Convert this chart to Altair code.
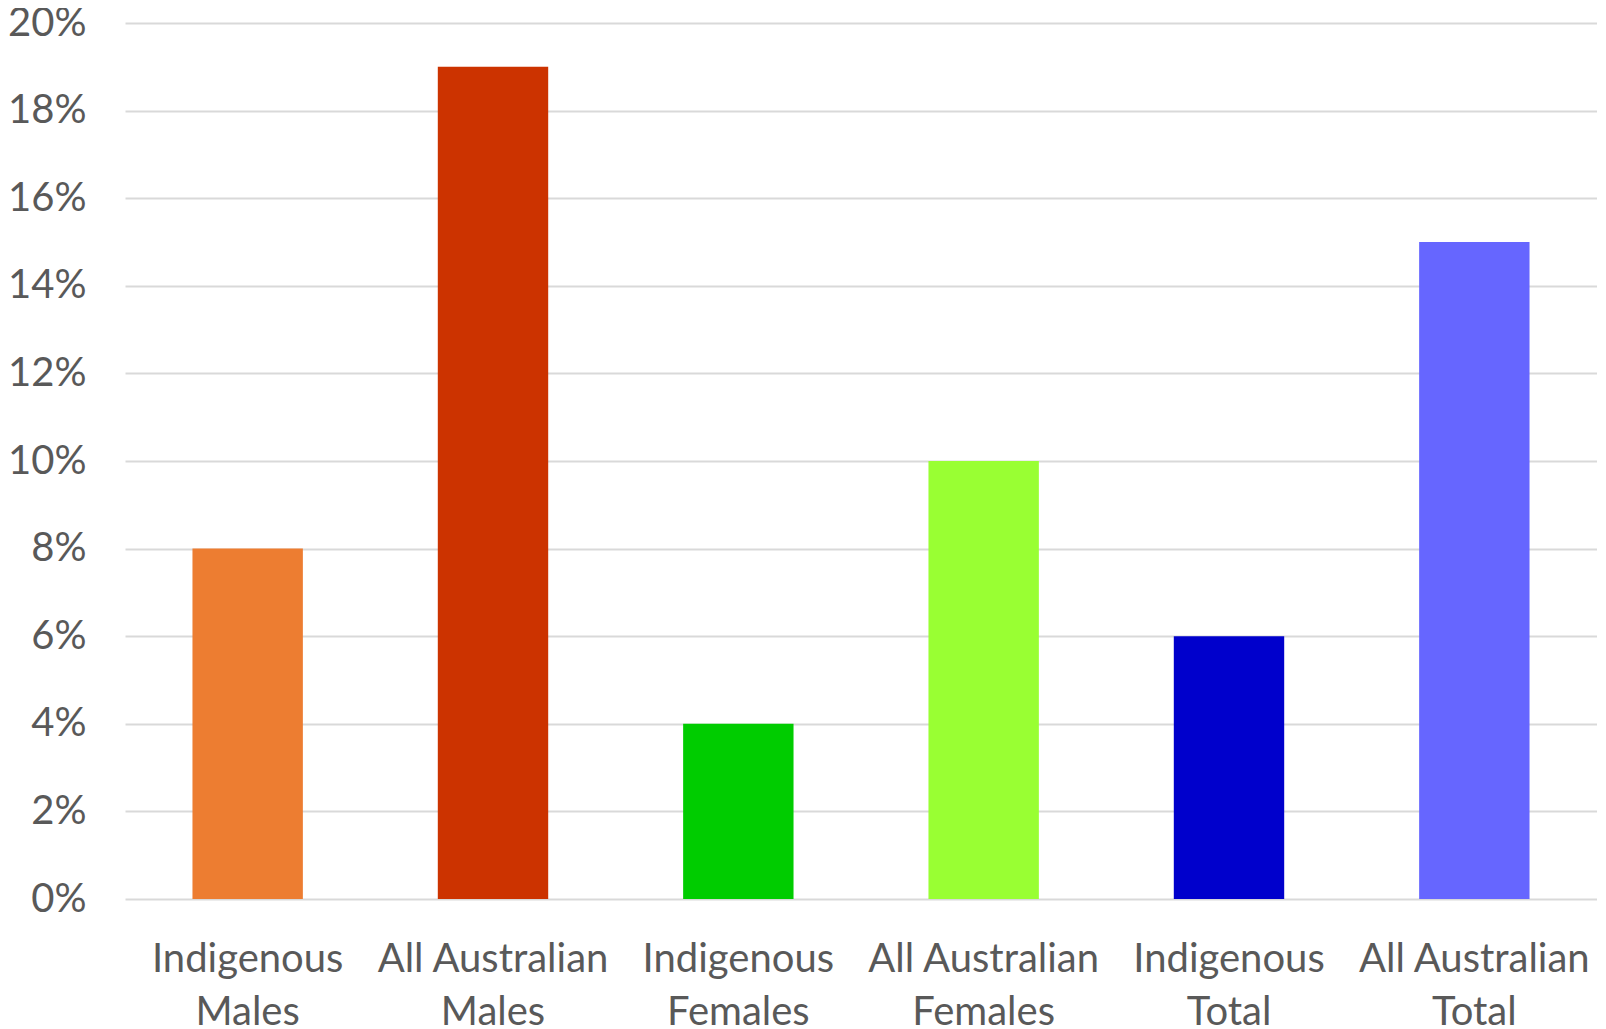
import altair as alt
import pandas as pd

categories = ["Indigenous Males", "All Australian Males", "Indigenous Females",
              "All Australian Females", "Indigenous Total", "All Australian Total"]
values = [0.08, 0.19, 0.04, 0.10, 0.06, 0.15]
colors = ["#ED7D31", "#CC3300", "#00CC00", "#99FF33", "#0000CC", "#6666FF"]
y_ticks = [0, 0.02, 0.04, 0.06, 0.08, 0.10, 0.12, 0.14, 0.16, 0.18, 0.20]

df = pd.DataFrame({"category": categories, "value": values, "color": colors})

label_expr = ("[substring(datum.label, 0, lastindexof(datum.label, ' ')), "
              "substring(datum.label, lastindexof(datum.label, ' ') + 1)]")

chart = alt.Chart(df).mark_bar().encode(
    x=alt.X("category:N", sort=categories, title=None,
            scale=alt.Scale(paddingInner=0.55, paddingOuter=0.275),
            axis=alt.Axis(labelExpr=label_expr, labelAngle=0, ticks=False, domain=False,
                          grid=False, labelPadding=40, labelLineHeight=53,
                          labelLimit=0)),
    y=alt.Y("value:Q", title=None,
            scale=alt.Scale(domain=[0, 0.20], nice=False),
            axis=alt.Axis(values=y_ticks, format=".0%", ticks=False, domain=False,
                          labelPadding=39, gridColor="#D9D9D9", gridWidth=2)),
    color=alt.Color("color:N", scale=None),
).properties(
    width=1472, height=876,
    padding={"left": 117, "top": 15, "right": 0, "bottom": 130},
    autosize=alt.AutoSizeParams(type="none"),
).configure_axis(
    labelFont="Lato", labelFontSize=40, labelColor="#595959",
).configure_view(stroke=None)

chart.save("out.html", embed_options={"renderer": "svg", "actions": False})
